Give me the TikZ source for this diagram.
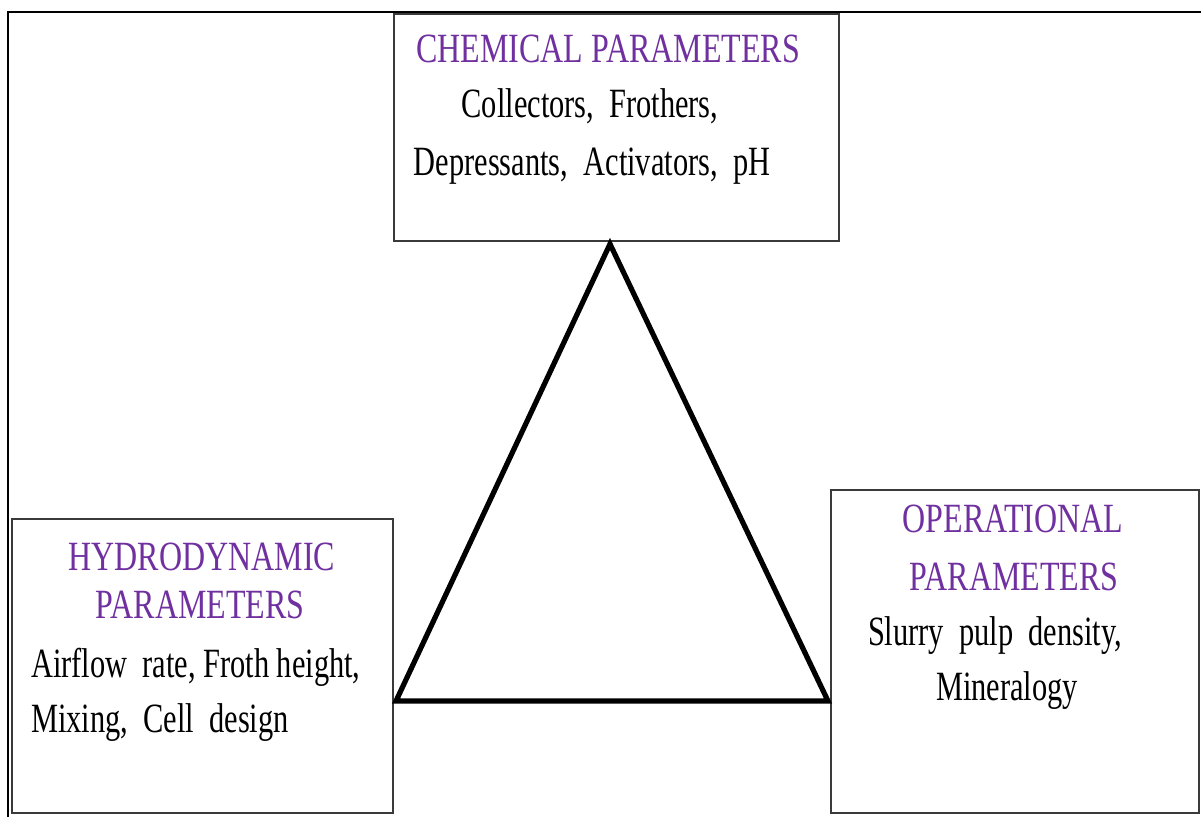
\documentclass[tikz,border=0pt]{standalone}
\usepackage{fontspec}
\setmainfont{Liberation Serif}
\usepackage{graphicx}
\definecolor{headpurple}{HTML}{7030A0}
\definecolor{boxgray}{HTML}{3A3A3A}
\newcommand\stretchtxt[1]{\scalebox{1}[1.3]{#1}}
\newcommand\stretchbody[1]{\scalebox{1}[1.37]{#1}}
\tikzset{
  panel/.style={draw=boxgray, line width=1.5pt, inner sep=0pt, outer sep=0pt, fill=white},
  headtxt/.style={anchor=base, inner sep=0pt, text=headpurple, font=\fontsize{24pt}{28pt}\selectfont},
  bodytxt/.style={anchor=base, inner sep=0pt, text=black, font=\fontsize{22.8pt}{27pt}\selectfont},
  bodyleft/.style={bodytxt, anchor=base west},
  tri/.style={line width=3.9pt, line join=miter, black}
}
\begin{document}
\begin{tikzpicture}[x=0.75pt, y=-0.75pt]
\useasboundingbox (0,0) rectangle (1201,817);
% outer frame
\draw[line width=1.5pt, black] (8,817) -- (8,12.5) -- (1201,12.5);
% boxes
\node[panel, minimum width=333.75pt, minimum height=170.25pt] (chem) at (616.5,127.5) {};
\node[panel, minimum width=285.75pt, minimum height=220.5pt] (hydro) at (202.5,666) {};
\node[panel, minimum width=276pt, minimum height=242.25pt] (oper) at (1014.5,651.5) {};
% triangle
\coordinate (apex) at (610,244);
\coordinate (left) at (396,701);
\coordinate (right) at (828,701);
\draw[tri] (left) -- (apex) -- (right) -- cycle;
% chemical texts
\node[headtxt] (chemhead) at (608,63) {\stretchtxt{CHEMICAL PARAMETERS}};
\node[bodytxt] (chemline1) at (590,117) {\stretchbody{Collectors,\ \ Frothers,}};
\node[bodytxt] (chemline2) at (592,175) {\stretchbody{Depressants,\ \ Activators,\ \ pH}};
% hydrodynamic texts
\node[headtxt] (hydhead1) at (202,570) {\stretchtxt{HYDRODYNAMIC}};
\node[headtxt] (hydhead2) at (200,618) {\stretchtxt{PARAMETERS}};
\node[bodyleft] (hydline1) at (31,677) {\stretchbody{Airflow\ \ rate, Froth height,}};
\node[bodyleft] (hydline2) at (31,732) {\stretchbody{Mixing,\ \ Cell\ \ design}};
% operational texts
\node[headtxt] (ophead1) at (1013,532) {\stretchtxt{OPERATIONAL}};
\node[headtxt] (ophead2) at (1014,590) {\stretchtxt{PARAMETERS}};
\node[bodytxt] (opline1) at (995,645) {\stretchbody{Slurry\ \ pulp\ \ density,}};
\node[bodytxt] (opline2) at (1007,700) {\stretchbody{Mineralogy}};
\end{tikzpicture}
\end{document}
